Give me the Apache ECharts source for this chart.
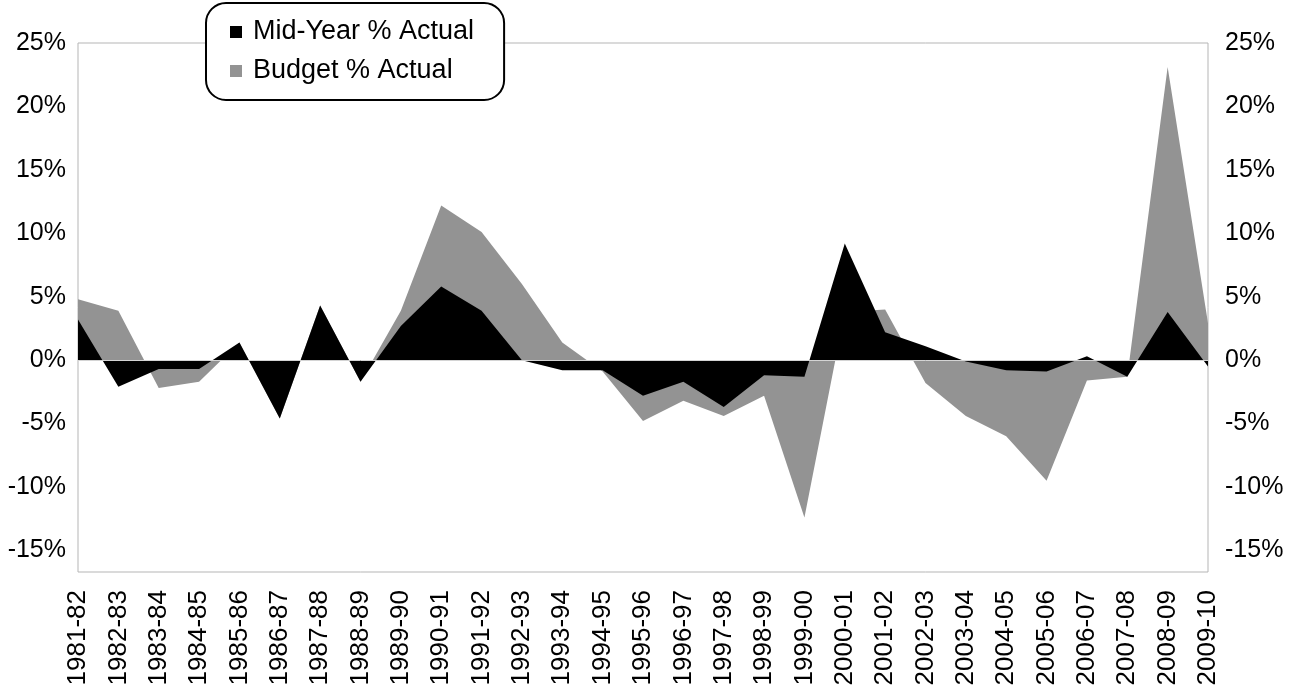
<!DOCTYPE html>
<html>
<head>
<meta charset="utf-8">
<title>Mid-Year and Budget % Actual</title>
<script src="https://cdn.jsdelivr.net/npm/echarts@6/dist/echarts.min.js"></script>
<style>
  html, body { margin: 0; padding: 0; background: #fff; }
  #chart { width: 1300px; height: 694px; }
</style>
</head>
<body>
<div id="chart"></div>
<script>
// Fiscal years on the category axis
const years = [
  '1981-82', '1982-83', '1983-84', '1984-85', '1985-86', '1986-87', '1987-88',
  '1988-89', '1989-90', '1990-91', '1991-92', '1992-93', '1993-94', '1994-95',
  '1995-96', '1996-97', '1997-98', '1998-99', '1999-00', '2000-01', '2001-02',
  '2002-03', '2003-04', '2004-05', '2005-06', '2006-07', '2007-08', '2008-09',
  '2009-10'
];

// Mid-year estimate error, % of actual
const midYear = [
  3.2, -2.1, -0.7, -0.7, 1.4, -4.6, 4.3, -1.7, 2.7, 5.8, 3.9, 0.0, -0.8, -0.8,
  -2.8, -1.7, -3.7, -1.2, -1.3, 9.2, 2.2, 1.1, -0.1, -0.8, -0.9, 0.3, -1.3, 3.8,
  -0.5
];

// Budget estimate error, % of actual
const budget = [
  4.8, 3.9, -2.2, -1.7, 1.4, -4.6, 4.3, -1.7, 3.9, 12.2, 10.1, 6.0, 1.4, -0.9,
  -4.8, -3.2, -4.4, -2.8, -12.4, 3.8, 4.0, -1.8, -4.4, -6.0, -9.5, -1.6, -1.3,
  23.1, 2.9
];

// Percent tick labels on both value axes
const pctTicks = [-15, -10, -5, 0, 5, 10, 15, 20, 25];

const FONT = "'Liberation Sans', Arial, sans-serif";
const GREY = '#939393';

const chart = echarts.init(document.getElementById('chart'), null, { renderer: 'canvas' });

function pctAxis(position, margin) {
  return {
    type: 'value',
    position: position,
    min: -16.7,
    max: 25,
    axisLine: { show: false },
    axisTick: { show: false },
    splitLine: { show: false },
    axisLabel: {
      customValues: pctTicks,
      margin: margin,
      color: '#000',
      fontFamily: FONT,
      fontSize: 25,
      formatter: function (v) {
        return pctTicks.indexOf(Math.round(v)) >= 0 && Math.abs(v - Math.round(v)) < 1e-6 ? v + '%' : '';
      }
    }
  };
}

chart.setOption({
  animation: false,
  backgroundColor: '#fff',
  grid: {
    left: 78, right: 92, top: 43, bottom: 122,
    show: true,
    borderColor: '#b5b5b5',
    borderWidth: 1,
    backgroundColor: 'transparent'
  },
  legend: {
    orient: 'vertical',
    left: 206,
    top: 3,
    data: ['Mid-Year % Actual', 'Budget % Actual'],
    icon: 'rect',
    itemWidth: 12,
    itemHeight: 12,
    itemGap: 11,
    backgroundColor: '#fff',
    borderColor: '#000',
    borderWidth: 2,
    borderRadius: 20,
    padding: [15, 30, 15, 24],
    textStyle: {
      fontFamily: FONT,
      fontSize: 27,
      lineHeight: 28,
      color: '#000',
      padding: [0, 0, 0, 6]
    }
  },
  xAxis: {
    type: 'category',
    data: years,
    boundaryGap: false,
    axisLine: { show: false },
    axisTick: { show: false },
    splitLine: { show: false },
    axisLabel: {
      interval: 0,
      rotate: 90,
      margin: 18,
      color: '#000',
      fontFamily: FONT,
      fontSize: 26
    }
  },
  yAxis: [pctAxis('left', 12), pctAxis('right', 17)],
  series: [
    {
      name: 'Budget % Actual',
      type: 'line',
      data: budget,
      symbol: 'none',
      lineStyle: { width: 0 },
      itemStyle: { color: GREY },
      areaStyle: { color: GREY, opacity: 1, origin: 'auto' },
      z: 2
    },
    {
      name: 'Mid-Year % Actual',
      type: 'line',
      data: midYear,
      symbol: 'none',
      lineStyle: { width: 0 },
      itemStyle: { color: '#000' },
      areaStyle: { color: '#000', opacity: 1, origin: 'auto' },
      z: 3,
      markLine: {
        silent: true,
        symbol: ['none', 'none'],
        label: { show: false },
        lineStyle: { color: '#d4d4d4', width: 1, type: 'solid' },
        data: [{ yAxis: 0 }]
      }
    }
  ]
});
</script>
</body>
</html>
